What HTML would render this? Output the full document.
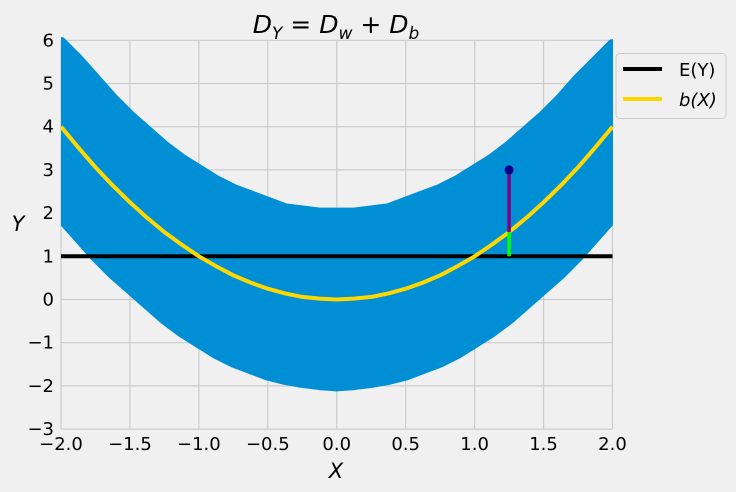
<!DOCTYPE html>
<html><head><meta charset="utf-8"><style>
body{margin:0;background:#f0f0f0;}
svg{display:block;font-family:"Liberation Sans","DejaVu Sans",sans-serif;}
</style></head><body>
<svg id="chart" width="736" height="492" viewBox="0 0 736 492">
<rect width="736" height="492" fill="#f0f0f0"/>
<defs><clipPath id="clipx"><rect x="61" y="0" width="552" height="492"/></clipPath></defs>
<g id="grid"></g>
<g id="marks" clip-path="url(#clipx)"></g>
<g id="axes"></g>
<text x="336" y="33" text-anchor="middle" font-size="25" font-family="DejaVu Sans, sans-serif"><tspan font-style="italic">D</tspan><tspan font-style="italic" font-size="17" dy="6">Y</tspan><tspan dy="-6"> = </tspan><tspan font-style="italic">D</tspan><tspan font-style="italic" font-size="17" dy="6">w</tspan><tspan dy="-6"> + </tspan><tspan font-style="italic">D</tspan><tspan font-style="italic" font-size="17" dy="6">b</tspan></text>
<text x="336" y="478" text-anchor="middle" font-size="21" font-style="italic" font-family="DejaVu Sans, sans-serif">X</text>
<text x="18" y="231" text-anchor="middle" font-size="21" font-style="italic" font-family="DejaVu Sans, sans-serif">Y</text>
<g>
<rect x="616" y="53.5" width="110" height="65" rx="4" fill="#f0f0f0" stroke="#cccccc"/>
<line x1="623" y1="69" x2="662" y2="69" stroke="#000" stroke-width="4"/>
<text x="679" y="76" font-size="18" font-family="DejaVu Sans, sans-serif">E(Y)</text>
<line x1="623" y1="99" x2="662" y2="99" stroke="#ffd700" stroke-width="4"/>
<text x="679" y="106" font-size="18" font-style="italic" font-family="DejaVu Sans, sans-serif">b(X)</text>
</g>
</svg>
<script>
const xTicks=[-2,-1.5,-1,-0.5,0,0.5,1,1.5,2];
const xTickLabels=["\u22122.0","\u22121.5","\u22121.0","\u22120.5","0.0","0.5","1.0","1.5","2.0"];
const yTicks=[-3,-2,-1,0,1,2,3,4,5,6];
const yTickLabels=["\u22123","\u22122","\u22121","0","1","2","3","4","5","6"];
const bandX=[-2,-1.875,-1.75,-1.625,-1.5,-1.375,-1.25,-1.125,-1,-0.875,-0.75,-0.625,-0.5,-0.375,-0.25,-0.125,0,0.125,0.25,0.375,0.5,0.625,0.75,0.875,1,1.125,1.25,1.375,1.5,1.625,1.75,1.875,2];
const bandUpper=[5.95,5.55,5.1,4.65,4.25,3.9,3.55,3.25,3.0,2.75,2.55,2.4,2.25,2.1,2.05,2.0,2.0,2.0,2.05,2.1,2.25,2.4,2.55,2.75,3.0,3.25,3.55,3.9,4.25,4.65,5.1,5.5,5.9];
const bandLower=[1.9,1.45,1.0,0.6,0.25,-0.1,-0.45,-0.75,-1.0,-1.25,-1.45,-1.6,-1.75,-1.85,-1.92,-1.97,-2.0,-1.97,-1.92,-1.85,-1.75,-1.6,-1.45,-1.25,-1.0,-0.75,-0.45,-0.1,0.25,0.6,1.0,1.45,1.9];
const curveX=[-2,-1.875,-1.75,-1.625,-1.5,-1.375,-1.25,-1.125,-1,-0.875,-0.75,-0.625,-0.5,-0.375,-0.25,-0.125,0,0.125,0.25,0.375,0.5,0.625,0.75,0.875,1,1.125,1.25,1.375,1.5,1.625,1.75,1.875,2];
const curveY=[4,3.52,3.06,2.64,2.25,1.89,1.56,1.27,1,0.77,0.56,0.39,0.25,0.14,0.06,0.02,0,0.02,0.06,0.14,0.25,0.39,0.56,0.77,1,1.27,1.56,1.89,2.25,2.64,3.06,3.52,4];
const meanY=[1];
const pointX=[1.25], pointY=[3], pointB=[1.5625];

const sx=v=>61+(v+2)*551.5/4;
const sy=v=>299.5-v*43.2;
const NS="http://www.w3.org/2000/svg";
function mk(tag,attrs,parent){const e=document.createElementNS(NS,tag);for(const k in attrs)e.setAttribute(k,attrs[k]);parent.appendChild(e);return e;}
const grid=document.getElementById('grid'),marks=document.getElementById('marks'),axes=document.getElementById('axes');
xTicks.forEach((t,i)=>{
  const l=mk('line',{x1:sx(t),x2:sx(t),y1:sy(6),y2:sy(-3),stroke:'#cbcbcb','stroke-width':1.2},grid);
  
  
  const tx=mk('text',{x:sx(t),y:450,'text-anchor':'middle','font-size':18,'font-family':'DejaVu Sans, sans-serif',fill:'#000'},axes);
  tx.textContent=xTickLabels[i];
  
  
});
yTicks.forEach((t,i)=>{
  const l=mk('line',{x1:sx(-2),x2:sx(2),y1:sy(t),y2:sy(t),stroke:'#cbcbcb','stroke-width':1.2},grid);
  
  
  const tx=mk('text',{x:54,y:sy(t)+6,'text-anchor':'end','font-size':18,'font-family':'DejaVu Sans, sans-serif',fill:'#000'},axes);
  tx.textContent=yTickLabels[i];
  
  
});
let pts=bandX.map((x,i)=>sx(x)+','+sy(bandUpper[i]));
pts=pts.concat(bandX.slice().reverse().map((x,j)=>{const i=bandX.length-1-j;return sx(x)+','+sy(bandLower[i]);}));
const band=mk('polygon',{points:pts.join(' '),fill:'#008fd5',stroke:'#008fd5','stroke-width':11,'stroke-linejoin':'round'},marks);


const ey=mk('line',{x1:sx(-2),x2:sx(2),y1:sy(meanY[0]),y2:sy(meanY[0]),stroke:'#000','stroke-width':4},marks);


const cur=mk('polyline',{points:curveX.map((x,i)=>sx(x)+','+sy(curveY[i])).join(' '),fill:'none',stroke:'#ffd700','stroke-width':4,'stroke-linejoin':'round'},marks);


const gl=mk('line',{x1:sx(pointX[0]),x2:sx(pointX[0]),y1:sy(meanY[0]),y2:sy(pointB[0]),stroke:'#00ff00','stroke-width':3.5},marks);


const pl=mk('line',{x1:sx(pointX[0]),x2:sx(pointX[0]),y1:sy(pointB[0]),y2:sy(pointY[0]),stroke:'#800080','stroke-width':3.5},marks);


const dot=mk('circle',{cx:sx(pointX[0]),cy:sy(pointY[0]),r:4.5,fill:'#00008b'},marks);


</script>
</body></html>
